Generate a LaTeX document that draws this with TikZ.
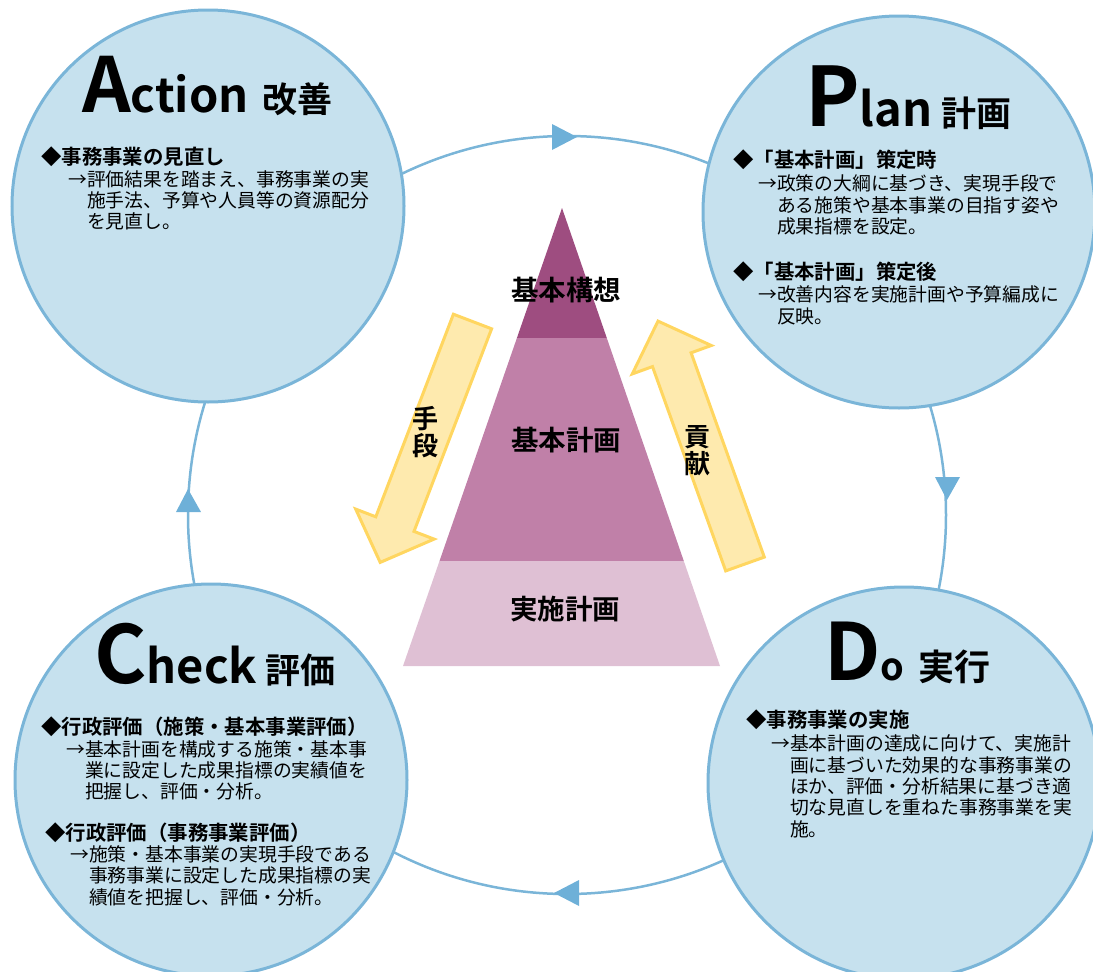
\documentclass[tikz,border=0pt]{standalone}
\usepackage{fontspec}
\setmainfont{Noto Sans CJK JP}[BoldFont={Noto Sans CJK JP Bold}]
\definecolor{cfill}{RGB}{198,225,238}
\definecolor{cline}{RGB}{122,181,216}
\definecolor{ctip}{RGB}{110,176,216}
\definecolor{pyrA}{RGB}{158,77,128}
\definecolor{pyrB}{RGB}{192,128,168}
\definecolor{pyrC}{RGB}{223,192,212}
\definecolor{yfill}{RGB}{254,234,174}
\definecolor{yline}{RGB}{255,214,96}
\begin{document}
\begin{tikzpicture}[x=1pt,y=-1pt,
 pdca/.style={circle, draw=cline, fill=cfill, line width=3pt, minimum size=392pt, inner sep=0pt},
 cyc/.style={draw=cline, line width=2.5pt},
 cyctip/.style={fill=ctip},
 hd/.style={anchor=base west, inner sep=0pt, font=\bfseries\fontsize{20.4}{22}\selectfont},
 bd/.style={anchor=base west, inner sep=0pt, align=left, font=\fontsize{18.8}{21.3}\selectfont},
 ttl/.style={anchor=base west, inner sep=0pt, font=\bfseries},
 pyl/.style={font=\bfseries\fontsize{27.5}{28}\selectfont, inner sep=0pt},
 yarrow/.style={fill=yfill, draw=yline, line width=3pt, line join=miter},
 vlab/.style={font=\bfseries\fontsize{26}{27}\selectfont, inner sep=0pt, align=center}
]
\useasboundingbox (0,0) rectangle (1093,972);
% cycle
\coordinate (cc) at (567,515);
\draw[cyc] (cc) circle[radius=379pt];
\fill[cyctip] (577,137) -- (552,124) -- (552,150) -- cycle;
\fill[cyctip] (947,500) -- (935,477) -- (960,477) -- cycle;
\fill[cyctip] (554,893) -- (579,880) -- (579,906) -- cycle;
\fill[cyctip] (188,489) -- (176,512) -- (201,512) -- cycle;
% pyramid
\fill[pyrA] (562,208) -- (606.8,338) -- (516.9,338) -- cycle;
\fill[pyrB] (516.9,338) -- (606.8,338) -- (683.8,561) -- (439.5,561) -- cycle;
\fill[pyrC] (439.5,561) -- (683.8,561) -- (720,666) -- (403,666) -- cycle;
\node[pyl] (l1) at (566,290) {基本構想};
\node[pyl] (l2) at (566,440) {基本計画};
\node[pyl] (l3) at (565,609) {実施計画};
% yellow arrows
\draw[yarrow] (453.4,314.2) -- (491.6,328.8) -- (414.0,531.4) -- (434.1,539.1) -- (380.2,562.4) -- (355.7,509.1) -- (375.8,516.8) -- cycle;
\draw[yarrow] (725.7,570.9) -- (764.3,557.1) -- (691.1,352.8) -- (711.3,345.5) -- (658.0,321.1) -- (632.3,373.9) -- (652.5,366.6) -- cycle;
\node[vlab] (shudan) at (425,432) {手\\段};
\node[vlab] (koken) at (697,451) {貢\\献};
% circles
\node[pdca] (action) at (208,206) {};
\node[pdca] (plan) at (899,212) {};
\node[pdca] (check) at (211,780) {};
\node[pdca] (doo) at (904,783) {};
% titles
\node[ttl] (actT) at (82,112) {{\fontsize{76}{76}\selectfont A}{\fontsize{47}{47}\selectfont ction}\hspace{14pt}{\fontsize{35}{35}\selectfont 改善}};
\node[ttl] (planT) at (805,126) {{\fontsize{82}{82}\selectfont P}{\fontsize{47}{47}\selectfont lan}\hspace{9pt}{\fontsize{35}{35}\selectfont 計画}};
\node[ttl] (checkT) at (94,683) {{\fontsize{80}{80}\selectfont C}{\fontsize{47}{47}\selectfont heck}\hspace{8pt}{\fontsize{35}{35}\selectfont 評価}};
\node[ttl] (doT) at (824,680) {{\fontsize{79}{79}\selectfont D}{\fontsize{38}{38}\selectfont o}\hspace{14pt}{\fontsize{36}{36}\selectfont 実行}};
% Action text
\node[hd] (actH) at (41,164) {◆事務事業の見直し};
\node[bd] (actB) at (68,228.6) {→評価結果を踏まえ、事務事業の実\\\hspace*{1em}施手法、予算や人員等の資源配分\\\hspace*{1em}を見直し。};
% Plan text
\node[hd] (planH1) at (733,167) {◆「基本計画」策定時};
\node[bd] (planB1) at (758,233.5) {→政策の大綱に基づき、実現手段で\\\hspace*{1em}ある施策や基本事業の目指す姿や\\\hspace*{1em}成果指標を設定。};
\node[hd] (planH2) at (733,279) {◆「基本計画」策定後};
\node[bd] (planB2) at (758,323) {→改善内容を実施計画や予算編成に\\\hspace*{1em}反映。};
% Check text
\node[hd] (checkH1) at (41,734) {◆行政評価（施策・基本事業評価）};
\node[bd] (checkB1) at (66,798.6) {→基本計画を構成する施策・基本事\\\hspace*{1em}業に設定した成果指標の実績値を\\\hspace*{1em}把握し、評価・分析。};
\node[hd] (checkH2) at (45,840) {◆行政評価（事務事業評価）};
\node[bd] (checkB2) at (70,904) {→施策・基本事業の実現手段である\\\hspace*{1em}事務事業に設定した成果指標の実\\\hspace*{1em}績値を把握し、評価・分析。};
% Do text
\node[hd] (doH) at (746,727) {◆事務事業の実施};
\node[bd] (doB) at (771,836) {→基本計画の達成に向けて、実施計\\\hspace*{1em}画に基づいた効果的な事務事業の\\\hspace*{1em}ほか、評価・分析結果に基づき適\\\hspace*{1em}切な見直しを重ねた事務事業を実\\\hspace*{1em}施。};
\end{tikzpicture}
\end{document}
